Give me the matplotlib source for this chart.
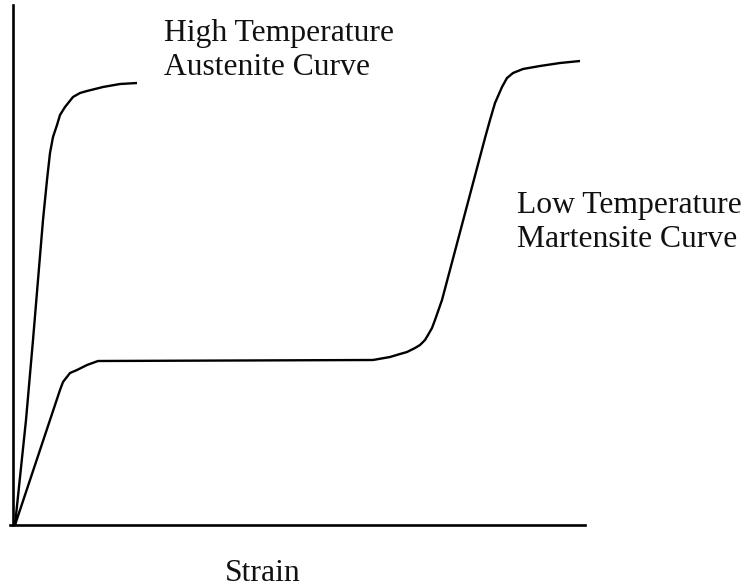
import matplotlib
matplotlib.use("Agg")
import matplotlib.pyplot as plt

# Stress-strain curves (arbitrary units)
austenite_strain = [2, 13, 20, 30, 34, 37, 40, 44, 47, 52, 60, 67, 74, 90, 107, 124]
austenite_stress = [0, 105, 185, 305, 345, 372, 388, 400, 410, 418, 428, 432,
                    434, 438, 441, 442]

martensite_strain = [2, 37, 47, 50, 57, 64, 74, 85, 360, 377, 387, 394, 402,
                     407, 412, 415, 419, 422, 429, 472, 477, 482, 489, 494, 500,
                     510, 527, 547, 567]
martensite_stress = [0, 105, 135, 143, 152, 155, 160, 164, 165, 168, 171, 173,
                     177, 180, 185, 190, 197, 205, 225, 387, 405, 422, 438, 447,
                     452, 456, 459, 462, 464]

label_austenite = "High Temperature\nAustenite Curve"
label_martensite = "Low Temperature\nMartensite Curve"
xlabel = "Strain"

W, H = 750, 588
fig = plt.figure(figsize=(W / 100, H / 100), dpi=100)
ax = fig.add_axes([13 / W, (H - 525) / H, 572 / W, 520 / H])
ax.set_xlim(0, 572)
ax.set_ylim(0, 520)

serif = ["Liberation Serif", "DejaVu Serif"]
fs = 22.8

ax.plot(austenite_strain, austenite_stress, color="black", lw=1.7,
        solid_joinstyle="round", solid_capstyle="butt", clip_on=False)
ax.plot(martensite_strain, martensite_stress, color="black", lw=1.7,
        solid_joinstyle="round", solid_capstyle="butt", clip_on=False)

for s in ["top", "right"]:
    ax.spines[s].set_visible(False)
for s in ["left", "bottom"]:
    ax.spines[s].set_linewidth(1.9)
    ax.spines[s].set_color("black")
ax.spines["bottom"].set_bounds(-3, 572)
ax.set_xticks([])
ax.set_yticks([])

ax.text(151, 450, label_austenite, family=serif, fontsize=fs, va="baseline",
        ha="left", linespacing=1.25, color="#111111")
ax.text(504, 278, label_martensite, family=serif, fontsize=fs, va="baseline",
        ha="left", linespacing=1.25, color="#111111", clip_on=False)
ax.text(212, -56, xlabel, family=serif, fontsize=fs, va="baseline",
        ha="left", color="#111111", clip_on=False)

fig.savefig("out.png", dpi=100)
